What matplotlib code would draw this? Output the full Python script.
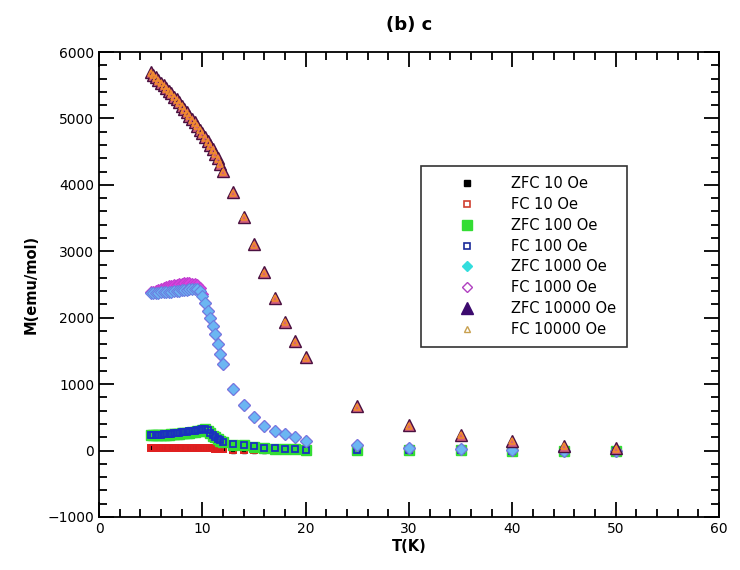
import matplotlib
matplotlib.use("Agg")
import matplotlib.pyplot as plt
from matplotlib.lines import Line2D
from matplotlib.ticker import MultipleLocator

# temperatures: dense sweep 5-12 K, then coarse points
T = [5.0, 5.25, 5.5, 5.75, 6.0, 6.25, 6.5, 6.75, 7.0, 7.25, 7.5, 7.75, 8.0, 8.25, 8.5,
     8.75, 9.0, 9.25, 9.5, 9.75, 10.0, 10.25, 10.5, 10.75, 11.0, 11.25, 11.5, 11.75, 12.0,
     13, 14, 15, 16, 17, 18, 19, 20,
     25, 30, 35, 40, 45, 50]

zfc_10 = [50, 50, 50, 49, 49, 49, 48, 48, 48, 48, 47, 47, 47, 46, 46,
          46, 45, 45, 45, 44, 44, 43, 42, 40, 38, 36, 34, 32, 30,
          -10, -10, -8, -5, -5, -5, -5, -5,
          0, 0, 0, 0, 0, 0]
fc_10 = [45, 45, 45, 45, 44, 44, 44, 44, 43, 43, 43, 42, 42, 42, 41,
         41, 41, 40, 40, 40, 39, 38, 37, 35, 33, 31, 30, 30, 30,
         5, 5, 5, 5, 5, 5, 5, 5,
         0, 0, 0, 0, 0, 0]

zfc_100 = [230, 232, 234, 235, 236, 237, 238, 240, 242, 246, 250, 255, 260, 264, 268,
           272, 278, 285, 292, 300, 310, 318, 300, 260, 225, 200, 175, 150, 130,
           90, 80, 60, 35, 30, 28, 28, 10,
           5, 3, 2, 0, 0, 0]
fc_100 = [232, 234, 236, 238, 240, 242, 245, 250, 255, 260, 265, 270, 274, 278, 282,
          288, 294, 300, 308, 316, 325, 330, 310, 270, 232, 205, 178, 152, 132,
          95, 85, 62, 38, 32, 30, 30, 12,
          5, 3, 2, 0, 0, 0]

zfc_1000 = [2370, 2372, 2375, 2378, 2380, 2383, 2386, 2390, 2394, 2398, 2402, 2406, 2410, 2415, 2420,
            2425, 2430, 2430, 2425, 2400, 2330, 2220, 2100, 1990, 1880, 1750, 1600, 1450, 1310,
            930, 680, 510, 375, 295, 245, 210, 150,
            85, 35, 30, 5, 0, 0]
fc_1000 = [2380, 2390, 2400, 2415, 2430, 2445, 2460, 2470, 2480, 2490, 2500, 2508, 2514, 2518, 2520,
           2520, 2515, 2505, 2485, 2440, 2350, 2220, 2100, 1990, 1880, 1750, 1600, 1450, 1310,
           930, 680, 510, 375, 295, 245, 210, 150,
           85, 35, 30, 5, 0, 0]

zfc_10000 = [5700, 5660, 5620, 5580, 5540, 5500, 5460, 5420, 5380, 5330, 5290, 5240, 5190, 5140, 5090,
             5040, 4990, 4940, 4890, 4830, 4780, 4720, 4660, 4600, 4540, 4470, 4400, 4320, 4210,
             3890, 3520, 3110, 2690, 2300, 1940, 1650, 1410,
             670, 380, 240, 150, 75, 35]
fc_10000 = [5690, 5650, 5610, 5570, 5530, 5490, 5450, 5410, 5370, 5320, 5280, 5230, 5180, 5130, 5080,
            5030, 4980, 4930, 4880, 4820, 4770, 4710, 4650, 4590, 4530, 4460, 4390, 4310, 4200,
            3880, 3510, 3100, 2680, 2290, 1930, 1640, 1400,
            660, 370, 230, 140, 65, 25]

labels = ["ZFC 10 Oe", "FC 10 Oe", "ZFC 100 Oe", "FC 100 Oe",
          "ZFC 1000 Oe", "FC 1000 Oe", "ZFC 10000 Oe", "FC 10000 Oe"]

fig = plt.figure(figsize=(7.4, 5.7), dpi=100)
ax = fig.add_axes([99 / 740, 1 - 517 / 570, 620 / 740, 465 / 570])

# data as it appears on the original plot (overlapping markers blend colours)
ax.plot(T, zfc_10, ls="none", marker="s", ms=2.5, mfc="black", mec="black")
ax.plot(T, fc_10, ls="none", marker="s", ms=4.5, mfc="none", mec="#e02020", mew=1.4)
ax.plot(T, zfc_100, ls="none", marker="s", ms=6.5, mfc="#33dd33", mec="#33dd33")
ax.plot(T, fc_100, ls="none", marker="s", ms=4.5, mfc="none", mec="#1a30c0", mew=1.3)
ax.plot(T, fc_1000, ls="none", marker="D", ms=6.5, mfc="#e040e0", mec="#c040d0", mew=0.8)
ax.plot(T, zfc_1000, ls="none", marker="D", ms=6.5, mfc="#6cb6f2", mec="#6a7ee0", mew=0.8)
ax.plot(T, zfc_10000, ls="none", marker="^", ms=9, mfc="#d4607c", mec="#4a1040", mew=1.0)
ax.plot(T, fc_10000, ls="none", marker="^", ms=4.5, mfc="none", mec="#f08a30", mew=1.2)

ax.set_xlim(0, 60)
ax.set_ylim(-1000, 6000)
ax.xaxis.set_major_locator(MultipleLocator(10))
ax.xaxis.set_minor_locator(MultipleLocator(2))
ax.yaxis.set_major_locator(MultipleLocator(1000))
ax.yaxis.set_minor_locator(MultipleLocator(200))
ax.tick_params(which="both", direction="in", top=True, right=True, width=1.3, labelsize=10)
ax.tick_params(which="major", length=11)
ax.tick_params(which="minor", length=6)
for s in ax.spines.values():
    s.set_linewidth(1.3)

ax.set_xlabel("T(K)", fontweight="bold", fontsize=10.5, labelpad=2)
ax.set_ylabel("M(emu/mol)", fontweight="bold", fontsize=10.5, labelpad=6)
ax.set_title("(b) c", fontweight="bold", fontsize=13, pad=16)

# legend uses the series' own marker styles
handles = [
    Line2D([], [], ls="none", marker="s", ms=4, mfc="black", mec="black"),
    Line2D([], [], ls="none", marker="s", ms=4, mfc="none", mec="#d04030", mew=1.2),
    Line2D([], [], ls="none", marker="s", ms=7, mfc="#33dd33", mec="#33dd33"),
    Line2D([], [], ls="none", marker="s", ms=4, mfc="none", mec="#1a2a9a", mew=1.2),
    Line2D([], [], ls="none", marker="D", ms=5.5, mfc="#33dddd", mec="#33dddd"),
    Line2D([], [], ls="none", marker="D", ms=5.5, mfc="none", mec="#b040c0", mew=1.0),
    Line2D([], [], ls="none", marker="^", ms=9, mfc="#3c0a6e", mec="#3c0a6e"),
    Line2D([], [], ls="none", marker="^", ms=5, mfc="none", mec="#c8a050", mew=1.0),
]
leg = ax.legend(handles, labels, loc="upper left", bbox_to_anchor=(0.519, 0.755),
                fontsize=10.5, frameon=True, fancybox=False, edgecolor="black",
                borderpad=0.7, labelspacing=0.4, handlelength=5.0, handletextpad=0.5,
                borderaxespad=0)
leg.get_frame().set_linewidth(1.2)

fig.savefig("out.png", dpi=100)
